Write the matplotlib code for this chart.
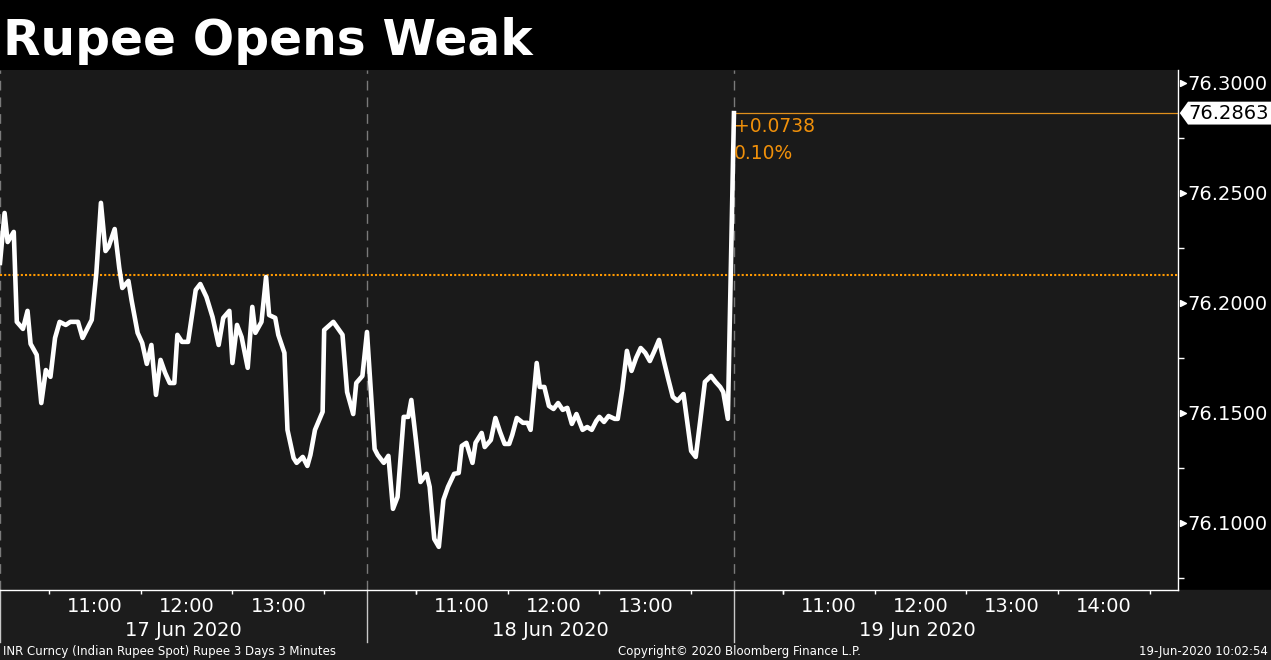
import matplotlib.pyplot as plt
from matplotlib.patches import Rectangle, Polygon

# INR spot, 3 days, intraday
days = ["17 Jun 2020", "18 Jun 2020", "19 Jun 2020"]

times_17 = ["09:58", "10:01", "10:03", "10:07", "10:09", "10:13", "10:16", "10:18", "10:22", "10:25",
            "10:28", "10:31", "10:34", "10:37", "10:41", "10:44", "10:49", "10:52", "10:58", "11:01",
            "11:04", "11:07", "11:09", "11:13", "11:16", "11:18", "11:22", "11:24", "11:28", "11:31",
            "11:34", "11:37", "11:40", "11:43", "11:46", "11:49", "11:52", "11:54", "11:57", "12:01",
            "12:06", "12:09", "12:13", "12:17", "12:21", "12:24", "12:28", "12:30", "12:33", "12:36",
            "12:40", "12:43", "12:45", "12:49", "12:52", "12:54", "12:58", "13:00", "13:04", "13:06",
            "13:10", "13:12", "13:16", "13:19", "13:21", "13:24", "13:29", "13:30", "13:36", "13:42",
            "13:45", "13:49", "13:51", "13:55"]
price_17 = [76.2182, 76.2409, 76.2277, 76.2323, 76.1914, 76.1882, 76.1964, 76.1814, 76.1764, 76.1545,
            76.1695, 76.1664, 76.1841, 76.1914, 76.1900, 76.1914, 76.1914, 76.1841, 76.1923, 76.2136,
            76.2455, 76.2236, 76.2255, 76.2336, 76.2159, 76.2068, 76.2100, 76.2014, 76.1864, 76.1818,
            76.1723, 76.1809, 76.1582, 76.1741, 76.1682, 76.1636, 76.1636, 76.1855, 76.1823, 76.1823,
            76.2059, 76.2086, 76.2027, 76.1936, 76.1809, 76.1932, 76.1964, 76.1727, 76.1900, 76.1845,
            76.1705, 76.1982, 76.1864, 76.1914, 76.2118, 76.1945, 76.1932, 76.1855, 76.1773, 76.1423,
            76.1295, 76.1273, 76.1300, 76.1259, 76.1309, 76.1423, 76.1505, 76.1877, 76.1914, 76.1855,
            76.1595, 76.1495, 76.1636, 76.1668]

times_18 = ["09:58", "10:03", "10:05", "10:09", "10:12", "10:15", "10:18", "10:22", "10:25", "10:27",
            "10:30", "10:33", "10:37", "10:39", "10:42", "10:45", "10:48", "10:51", "10:55", "10:58",
            "11:00", "11:03", "11:07", "11:09", "11:13", "11:15", "11:19", "11:22", "11:25", "11:28",
            "11:31", "11:33", "11:36", "11:40", "11:43", "11:45", "11:49", "11:51", "11:54", "11:57",
            "12:00", "12:03", "12:06", "12:09", "12:12", "12:15", "12:19", "12:22", "12:25", "12:28",
            "12:30", "12:33", "12:36", "12:40", "12:42", "12:45", "12:48", "12:51", "12:54", "12:57",
            "13:00", "13:03", "13:06", "13:09", "13:12", "13:15", "13:18", "13:21", "13:25", "13:27",
            "13:30", "13:33", "13:36", "13:39", "13:43", "13:46", "13:49", "13:51", "13:54"]
price_18 = [76.1868, 76.1336, 76.1309, 76.1273, 76.1305, 76.1064, 76.1118, 76.1482, 76.1482, 76.1559,
            76.1377, 76.1186, 76.1223, 76.1164, 76.0927, 76.0891, 76.1105, 76.1164, 76.1223, 76.1227,
            76.1350, 76.1364, 76.1273, 76.1364, 76.1409, 76.1345, 76.1377, 76.1477, 76.1414, 76.1359,
            76.1359, 76.1400, 76.1477, 76.1455, 76.1455, 76.1423, 76.1727, 76.1618, 76.1618, 76.1532,
            76.1518, 76.1545, 76.1514, 76.1523, 76.1450, 76.1495, 76.1423, 76.1436, 76.1423, 76.1464,
            76.1482, 76.1459, 76.1486, 76.1473, 76.1473, 76.1609, 76.1782, 76.1691, 76.1750, 76.1795,
            76.1773, 76.1736, 76.1782, 76.1832, 76.1741, 76.1655, 76.1573, 76.1555, 76.1586, 76.1482,
            76.1327, 76.1300, 76.1468, 76.1641, 76.1668, 76.1641, 76.1618, 76.1595, 76.1473]

times_19 = ["09:58"]
price_19 = [76.2863]

prev_close = 76.2125
last_price = 76.2863
change_txt = "+0.0738"
change_pct = "0.10%"

hour_labels_17 = ["11:00", "12:00", "13:00"]
hour_labels_18 = ["11:00", "12:00", "13:00"]
hour_labels_19 = ["11:00", "12:00", "13:00", "14:00"]

y_ticks = [76.10, 76.15, 76.20, 76.25, 76.30]
y_minor = [76.075, 76.125, 76.175, 76.225, 76.275]

# each day shown as a 240 minute block starting 09:58
OPEN = 9 * 60 + 58
DAY_LEN = 240


def to_x(day, t):
    h, m = t.split(":")
    return day * DAY_LEN + int(h) * 60 + int(m) - OPEN


all_times = [times_17, times_18, times_19]
all_prices = [price_17, price_18, price_19]
all_hours = [hour_labels_17, hour_labels_18, hour_labels_19]

xs, ys = [], []
for d in range(3):
    xs += [to_x(d, t) for t in all_times[d]]
    ys += all_prices[d]

W, H = 1271, 660
fig = plt.figure(figsize=(W / 100, H / 100), dpi=100, facecolor="black")
fig.patches.append(Rectangle((0, 0), 1, 70 / H, transform=fig.transFigure,
                             color="#1c1c1c", zorder=-10))
ax = fig.add_axes([0, 70 / H, 1178 / W, 520 / H])
ax.set_facecolor("#1a1a1a")

x_max = 770.4
ax.set_xlim(0, x_max)
ax.set_ylim(76.0695, 76.3059)

for d in range(3):
    ax.axvline(d * DAY_LEN, color="#7a7a7a", lw=1, ls=(0, (7, 5)), zorder=1)
    ax.plot([d * DAY_LEN] * 2, [0, -0.1], transform=ax.get_xaxis_transform(),
            clip_on=False, color="#c8c8c8", lw=1)

ax.axhline(prev_close, color="#ff9900", lw=1.5, ls=(0, (1, 1)), zorder=2)
x_last = to_x(2, times_19[-1])
ax.plot([x_last, x_max], [last_price, last_price], color="#e0901c", lw=0.9, zorder=2)

ax.plot(xs, ys, color="white", lw=3.3, zorder=3, solid_joinstyle="round")

ax.annotate(change_txt, (x_last, last_price), xytext=(0, -3), textcoords="offset points",
            color="#f0900a", fontsize=13.5, va="top", ha="left")
ax.annotate(change_pct, (x_last, last_price), xytext=(0, -22), textcoords="offset points",
            color="#f0900a", fontsize=13.5, va="top", ha="left")

# axes frame
for s in ["top", "left"]:
    ax.spines[s].set_visible(False)
for s in ["right", "bottom"]:
    ax.spines[s].set_color("white")
    ax.spines[s].set_linewidth(1)

# y axis on the right
ax.yaxis.tick_right()
ax.set_yticks(y_ticks)
ax.set_yticklabels(["%.4f" % v for v in y_ticks])
ax.set_yticks(y_minor, minor=True)
ax.tick_params(axis="y", which="major", length=0, pad=7, labelsize=14, labelcolor="white")
ax.tick_params(axis="y", which="minor", length=4, width=1, color="white")
ax.scatter([1.004] * len(y_ticks), y_ticks, marker=">", s=18, color="white",
           transform=ax.get_yaxis_transform(), clip_on=False, zorder=5)

# last price tag
hh = 0.0052
tag = Polygon([(1.0015, last_price), (1.0085, last_price + hh), (1.08, last_price + hh),
               (1.08, last_price - hh), (1.0085, last_price - hh)],
              closed=True, transform=ax.get_yaxis_transform(), clip_on=False,
              facecolor="white", edgecolor="none", zorder=5)
ax.add_patch(tag)
ax.text(1.0085, last_price, "%.4f" % last_price, transform=ax.get_yaxis_transform(),
        color="black", fontsize=14, va="center", ha="left", zorder=6)

# x axis
tick_pos, tick_lab = [], []
half_pos = []
for d in range(3):
    for lab in all_hours[d]:
        tick_pos.append(to_x(d, lab))
        tick_lab.append(lab)
    for hr in range(10, 15):
        half_pos.append(to_x(d, "%02d:30" % hr))
ax.set_xticks(tick_pos)
ax.set_xticklabels(tick_lab)
ax.set_xticks([p for p in half_pos if p < x_max], minor=True)
ax.tick_params(axis="x", which="major", length=0, pad=5, labelsize=14, labelcolor="white")
ax.tick_params(axis="x", which="minor", length=3, width=1, color="white")

for d in range(3):
    ax.text(d * DAY_LEN + DAY_LEN / 2, -0.077, days[d], transform=ax.get_xaxis_transform(),
            color="white", fontsize=14, ha="center", va="center")

# title and footer
fig.text(3 / W, 1 - 55 / H, "Rupee Opens Weak", color="white", fontsize=35,
         fontweight="bold", va="baseline", ha="left")
fig.text(3 / W, 9 / H, "INR Curncy (Indian Rupee Spot) Rupee 3 Days 3 Minutes",
         color="white", fontsize=8.5, va="center", ha="left")
fig.text(739 / W, 9 / H, "Copyright\u00a9 2020 Bloomberg Finance L.P.",
         color="white", fontsize=8.5, va="center", ha="center")
fig.text(1268 / W, 9 / H, "19-Jun-2020 10:02:54",
         color="white", fontsize=8.5, va="center", ha="right")

fig.savefig("out.png", dpi=100, facecolor="black")
